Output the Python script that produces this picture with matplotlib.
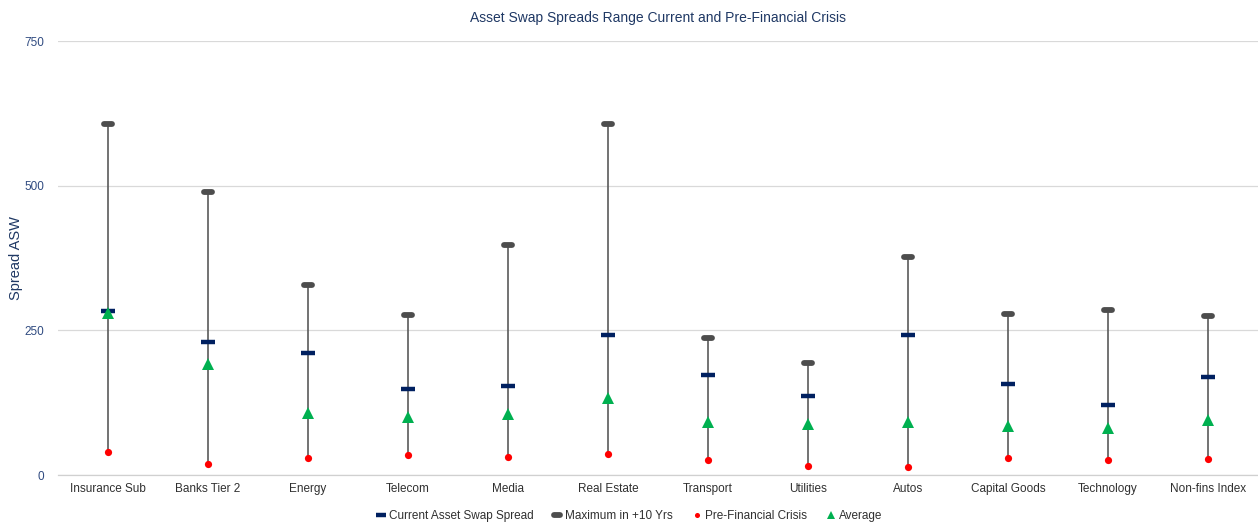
import matplotlib
matplotlib.use("Agg")
import matplotlib.pyplot as plt
from matplotlib.markers import MarkerStyle

plt.rcParams['font.family'] = ['Liberation Sans', 'DejaVu Sans']

categories = ["Insurance Sub", "Banks Tier 2", "Energy", "Telecom", "Media", "Real Estate",
              "Transport", "Utilities", "Autos", "Capital Goods", "Technology", "Non-fins Index"]
current_asw = [283, 230, 210, 148, 154, 242, 173, 137, 242, 157, 121, 169]
maximum_10y = [607, 489, 329, 276, 397, 607, 237, 193, 377, 278, 286, 275]
pre_crisis = [40, 19, 29, 35, 32, 36, 26, 16, 14, 29, 26, 28]
average = [280, 192, 108, 101, 105, 133, 92, 89, 91, 85, 82, 95]
y_ticks = [0, 250, 500, 750]

fig = plt.figure(figsize=(12.58, 5.25), dpi=100)
ax = fig.add_axes([0.0461, 0.0952, 0.9539, 0.8267])

x = list(range(len(categories)))
lows = [min(a, b, c, d) for a, b, c, d in zip(current_asw, maximum_10y, pre_crisis, average)]
highs = [max(a, b, c, d) for a, b, c, d in zip(current_asw, maximum_10y, pre_crisis, average)]
ax.vlines(x, lows, highs, colors='#5a5a5a', linewidth=1.2, zorder=2)

ax.plot(x, current_asw, linestyle='none', marker=MarkerStyle('_', capstyle='butt'),
        markersize=10, markeredgewidth=3.2, color='#002060', zorder=3,
        label='Current Asset Swap Spread')
ax.plot(x, maximum_10y, linestyle='none', marker=MarkerStyle('_', capstyle='round'),
        markersize=5.5, markeredgewidth=4.2, color='#4d4d4d', zorder=3,
        label='Maximum in +10 Yrs')
ax.plot(x, pre_crisis, linestyle='none', marker='o', markersize=5.2,
        color='#ff0000', markeredgewidth=0, zorder=4, label='Pre-Financial Crisis')
ax.plot(x, average, linestyle='none', marker='^', markersize=8.5,
        color='#00b050', markeredgewidth=0, zorder=5, label='Average')

ax.set_xlim(-0.5, len(categories) - 0.5)
ax.set_ylim(0, 750)
ax.set_yticks(y_ticks)
ax.set_yticklabels([str(v) for v in y_ticks], color='#2f4a80', fontsize=8.5)
ax.set_xticks(x)
ax.set_xticklabels(categories, fontsize=8.5, color='#303030')
ax.tick_params(axis='x', length=0, pad=6)
ax.tick_params(axis='y', length=0, pad=10)

ax.grid(axis='y', color='#d9d9d9', linewidth=0.9)
ax.set_axisbelow(True)
for side in ['top', 'right', 'left']:
    ax.spines[side].set_visible(False)
ax.spines['bottom'].set_color('#d0d0d0')
ax.spines['bottom'].set_linewidth(0.9)

ax.set_ylabel('Spread ASW', color='#1f3864', fontsize=10.5)
ax.yaxis.set_label_coords(-0.029, 0.5)
ax.set_title('Asset Swap Spreads Range Current and Pre-Financial Crisis',
             color='#1f3864', fontsize=10, pad=14)

leg = fig.legend(loc='center', bbox_to_anchor=(0.5, 0.017), ncol=4, frameon=False,
                 fontsize=8.5, handlelength=0.8, handletextpad=0.3, columnspacing=1.6,
                 markerscale=0.7, labelcolor='#303030')

fig.savefig('out.png', dpi=100)
